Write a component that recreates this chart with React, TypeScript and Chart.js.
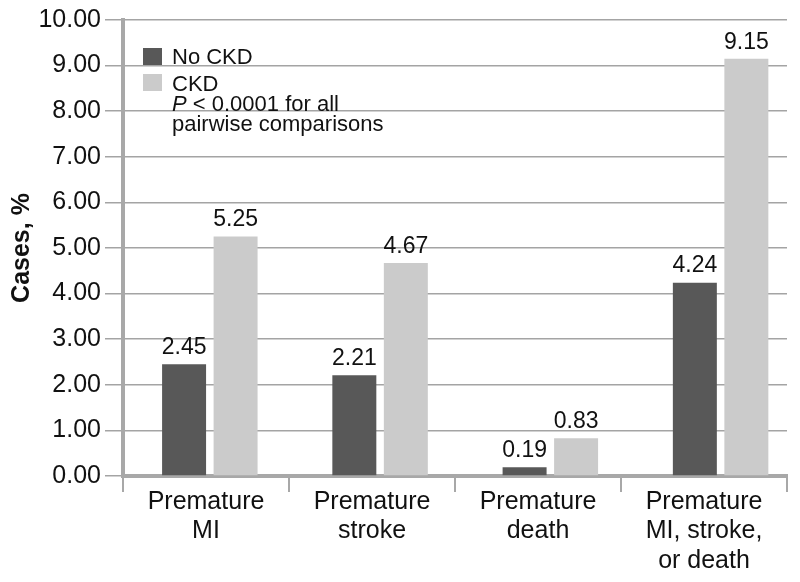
import React, { useEffect, useRef } from "react";
import { Chart, registerables } from "chart.js";

Chart.register(...registerables);

const categories: string[][] = [
  ["Premature", "MI"],
  ["Premature", "stroke"],
  ["Premature", "death"],
  ["Premature", "MI, stroke,", "or death"],
];
const noCkdValues = [2.45, 2.21, 0.19, 4.24];
const ckdValues = [5.25, 4.67, 0.83, 9.15];
const seriesLabels = ["No CKD", "CKD"];
const noteLines = ["< 0.0001 for all", "pairwise comparisons"];
const yTitle = "Cases, %";

const FONT = "'Liberation Sans', Arial, Helvetica, sans-serif";

const toPoints = (vals: number[]) => vals.map((v, i) => ({ x: i, y: v }));

const valueLabelPlugin = {
  id: "valueLabels",
  afterDatasetsDraw(chart: any) {
    const ctx = chart.ctx;
    ctx.save();
    ctx.font = `23px ${FONT}`;
    ctx.fillStyle = "#111";
    ctx.textAlign = "center";
    ctx.textBaseline = "bottom";
    chart.data.datasets.forEach((ds: any, di: number) => {
      const meta = chart.getDatasetMeta(di);
      meta.data.forEach((bar: any, i: number) => {
        ctx.fillText(Number(ds.data[i].y).toFixed(2), bar.x, bar.y - 5);
      });
    });
    ctx.restore();
  },
};

const legendPlugin = {
  id: "customLegend",
  afterDraw(chart: any) {
    const ctx = chart.ctx;
    const x0 = 143;
    const tx = 172;
    ctx.save();
    ctx.font = `22px ${FONT}`;
    ctx.textBaseline = "alphabetic";
    ctx.textAlign = "left";
    const boxTops = [48, 74];
    const baselines = [64, 91];
    chart.data.datasets.forEach((ds: any, i: number) => {
      ctx.fillStyle = ds.backgroundColor;
      ctx.fillRect(x0, boxTops[i], 19, 17);
      ctx.fillStyle = "#111";
      ctx.fillText(ds.label, tx, baselines[i]);
    });
    ctx.font = `italic 22px ${FONT}`;
    ctx.fillText("P", tx, 111);
    const pw = ctx.measureText("P ").width;
    ctx.font = `22px ${FONT}`;
    ctx.fillText(noteLines[0], tx + pw, 111);
    ctx.fillText(noteLines[1], tx, 131);
    ctx.restore();
  },
};

export default function App() {
  const ref = useRef<HTMLCanvasElement | null>(null);

  useEffect(() => {
    document.body.style.margin = "0";
    if (!ref.current) return;
    const chart = new Chart(ref.current, {
      type: "bar",
      data: {
        labels: categories as any,
        datasets: [
          {
            label: seriesLabels[0],
            data: toPoints(noCkdValues) as any,
            backgroundColor: "#585858",
            categoryPercentage: 0.605,
            barPercentage: 0.854,
            xAxisID: "xb",
          },
          {
            label: seriesLabels[1],
            data: toPoints(ckdValues) as any,
            backgroundColor: "#cbcbcb",
            categoryPercentage: 0.605,
            barPercentage: 0.854,
            xAxisID: "xb",
          },
        ],
      },
      options: {
        animation: false,
        responsive: false,
        devicePixelRatio: 1,
        layout: { padding: { top: 20, right: 13, left: 0, bottom: 0 } },
        plugins: {
          legend: { display: false },
          tooltip: { enabled: false },
        },
        scales: {
          xb: {
            type: "linear",
            display: false,
            min: -0.51,
            max: 3.39,
            offset: false,
            afterBuildTicks: (s: any) => {
              s.ticks = [];
            },
          },
          x: {
            type: "category",
            offset: true,
            grid: {
              offset: true,
              drawOnChartArea: false,
              drawTicks: true,
              tickLength: 16,
              color: "#a8a8a8",
              lineWidth: 2,
            },
            border: { display: true, color: "#a8a8a8", width: 4 },
            ticks: {
              color: "#111",
              font: { family: FONT, size: 25, lineHeight: 1.18 },
              padding: -5,
              maxRotation: 0,
              autoSkip: false,
            },
            afterFit: (s: any) => {
              s.height = 106;
            },
          },
          y: {
            min: 0,
            max: 10,
            ticks: {
              stepSize: 1,
              color: "#111",
              font: { family: FONT, size: 25 },
              padding: 4,
              callback: (v: any) => Number(v).toFixed(2),
            },
            grid: {
              color: "#a4a4a4",
              lineWidth: 1.5,
              tickLength: 18,
            },
            border: { display: true, color: "#a8a8a8", width: 4 },
            title: {
              display: true,
              text: yTitle,
              color: "#111",
              font: { family: FONT, size: 25, weight: "bold" },
              padding: { top: 7, bottom: 0 },
            },
            afterFit: (s: any) => {
              s.width = 123;
            },
          },
        },
      },
      plugins: [valueLabelPlugin, legendPlugin],
    });
    return () => chart.destroy();
  }, []);

  return <canvas ref={ref} width={800} height={582} style={{ display: "block" }} />;
}
